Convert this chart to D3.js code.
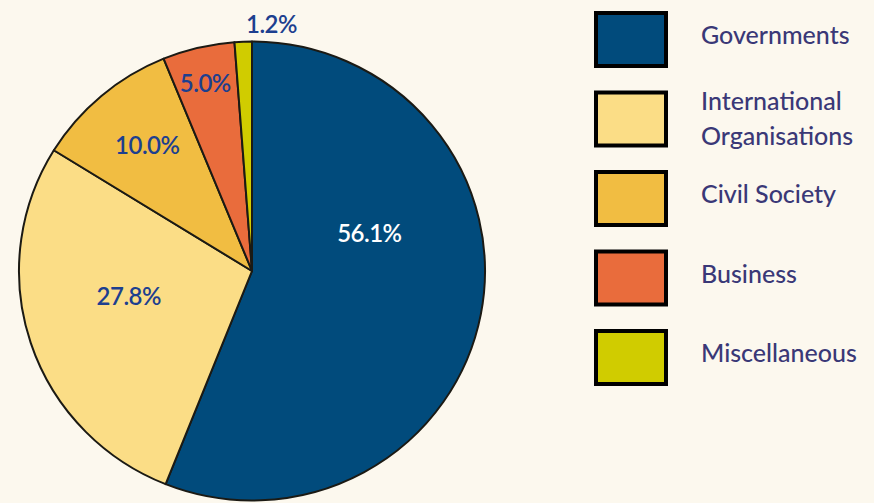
<!DOCTYPE html>
<html>
<head>
<meta charset="utf-8">
<script src="https://cdn.jsdelivr.net/npm/d3@7"></script>
<style>
  html, body { margin: 0; padding: 0; background: #fcf8ee; }
  svg { display: block; }
</style>
</head>
<body>
<svg id="chart" width="874" height="503"></svg>
<script>
const categories = ["Governments", "International Organisations", "Civil Society", "Business", "Miscellaneous"];
const legendLines = [["Governments"], ["International", "Organisations"], ["Civil Society"], ["Business"], ["Miscellaneous"]];
const values = [56.1, 27.8, 10.0, 5.0, 1.2];
const valueLabels = ["56.1%", "27.8%", "10.0%", "5.0%", "1.2%"];
const colors = ["#014b7c", "#fbdd86", "#f1bd42", "#e96c3c", "#d0cc00"];
const labelColors = ["#ffffff", "#1d3f8f", "#1d3f8f", "#1d3f8f", "#1d3f8f"];

const svg = d3.select("#chart");
svg.append("rect").attr("width", 874).attr("height", 503).attr("fill", "#fcf8ee");

const cx = 252, cy = 271, r = 233, sy = 0.985;
const g = svg.append("g").attr("transform", `translate(${cx},${cy}) scale(1,${sy})`);

const pie = d3.pie().sort(null).value(d => d)(values);
const arc = d3.arc().innerRadius(0).outerRadius(r);

g.selectAll("path.slice").data(pie).enter().append("path")
  .attr("class", "slice")
  .attr("d", arc)
  .attr("fill", (d, i) => colors[i])
  .attr("stroke", "#1b1a14")
  .attr("stroke-width", 2)
  .attr("stroke-linejoin", "round");

// label placement: radius (fraction of r) and angular nudge (degrees) per slice
const labelRadius = [0.53, 0.54, 0.71, 0.84, 1.08];
const labelNudge = [-29, 6.6, 1, -0.5, 6.6];

const lab = svg.append("g").attr("transform", `translate(${cx},${cy})`);
lab.selectAll("text.val").data(pie).enter().append("text")
  .attr("class", "val")
  .attr("transform", (d, i) => {
    const a = (d.startAngle + d.endAngle) / 2 + labelNudge[i] * Math.PI / 180;
    const rr = r * labelRadius[i];
    return `translate(${rr * Math.sin(a)},${-rr * Math.cos(a) * sy})`;
  })
  .attr("text-anchor", "middle")
  .attr("dy", "0.36em")
  .attr("font-family", "Lato, sans-serif")
  .attr("font-weight", 600)
  .attr("font-size", 24)
  .attr("letter-spacing", -0.5)
  .attr("fill", (d, i) => labelColors[i])
  .text((d, i) => valueLabels[i]);

// legend
const ly = d3.scaleLinear().domain([0, 1]).range([11, 90.5]);
const leg = svg.append("g");
categories.forEach((c, i) => {
  const y0 = ly(i);
  leg.append("rect")
    .attr("x", 596).attr("y", y0 + 2)
    .attr("width", 70).attr("height", 53)
    .attr("fill", colors[i])
    .attr("stroke", "#000").attr("stroke-width", 4);
  const lines = legendLines[i];
  const t = leg.append("text")
    .attr("font-family", "Lato, sans-serif")
    .attr("font-weight", 500)
    .attr("font-size", 25)
    .attr("fill", "#3a3877");
  if (lines.length === 1) {
    t.append("tspan").attr("x", 701).attr("y", y0 + 33).text(lines[0]);
  } else {
    t.append("tspan").attr("x", 701).attr("y", y0 + 19).text(lines[0]);
    t.append("tspan").attr("x", 701).attr("y", y0 + 54).text(lines[1]);
  }
});
</script>
</body>
</html>
